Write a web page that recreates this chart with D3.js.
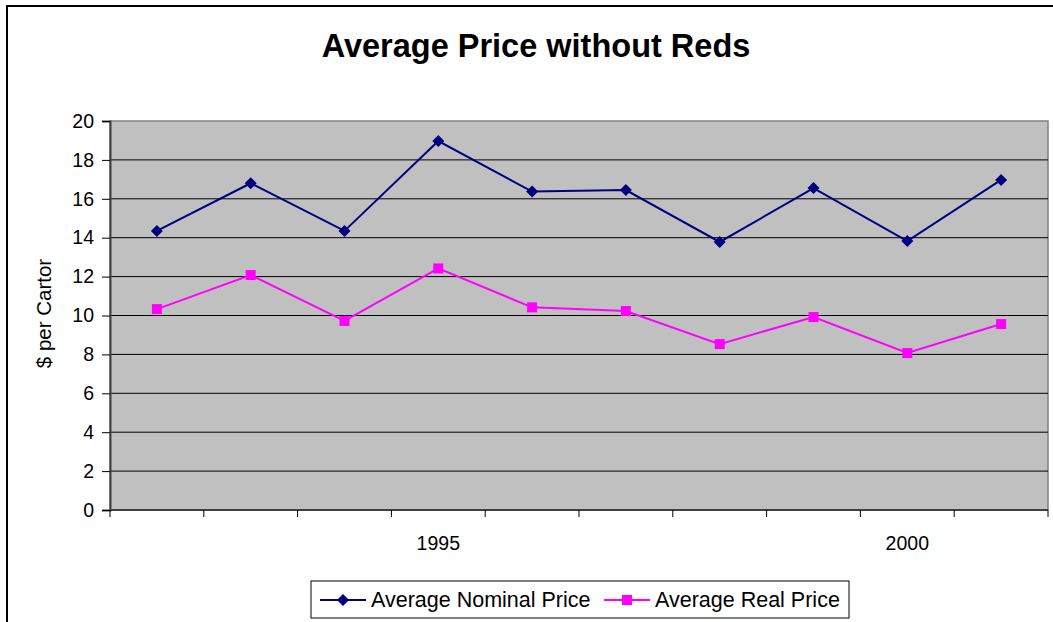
<!DOCTYPE html>
<html>
<head>
<meta charset="utf-8">
<script src="https://cdn.jsdelivr.net/npm/d3@7"></script>
<style>
  body { margin: 0; background: #fff; }
  svg { font-family: "Liberation Sans", Arial, sans-serif; display: block; }
</style>
</head>
<body>
<div id="chart"></div>
<script>
const years = [1992, 1993, 1994, 1995, 1996, 1997, 1998, 1999, 2000, 2001];
const yearLabels = { 1995: "1995", 2000: "2000" };
const nominalPrice = [14.35, 16.8, 14.35, 18.97, 16.37, 16.45, 13.78, 16.55, 13.83, 16.97];
const realPrice = [10.33, 12.08, 9.72, 12.42, 10.42, 10.23, 8.53, 9.92, 8.07, 9.56];
const yTicks = [0, 2, 4, 6, 8, 10, 12, 14, 16, 18, 20];

const width = 1053, height = 622;
const plot = { left: 110, right: 1048, top: 121, bottom: 510 };

const svg = d3.select("#chart").append("svg")
  .attr("width", width)
  .attr("height", height);

// outer chart frame (runs off the right and bottom edges)
svg.append("rect")
  .attr("x", 7).attr("y", 6)
  .attr("width", 1060).attr("height", 640)
  .attr("fill", "#fff")
  .attr("stroke", "#000")
  .attr("stroke-width", 2);

svg.append("text")
  .attr("x", 536).attr("y", 57)
  .attr("text-anchor", "middle")
  .style("font-size", "32.5px")
  .style("font-weight", "bold")
  .text("Average Price without Reds");

const x = d3.scaleBand()
  .domain(years)
  .range([plot.left, plot.right]);

const y = d3.scaleLinear()
  .domain([0, 20])
  .range([plot.bottom, plot.top]);

// plot background
svg.append("rect")
  .attr("x", plot.left).attr("y", plot.top)
  .attr("width", plot.right - plot.left)
  .attr("height", plot.bottom - plot.top)
  .attr("fill", "#c0c0c0")
  .attr("stroke", "#808080")
  .attr("stroke-width", 1.5);

// gridlines
svg.append("g")
  .selectAll("line")
  .data(yTicks.filter(d => d > 0 && d < 20))
  .join("line")
  .attr("x1", plot.left).attr("x2", plot.right)
  .attr("y1", d => y(d)).attr("y2", d => y(d))
  .attr("stroke", "#000")
  .attr("stroke-width", 1);

// y axis
const yAxis = svg.append("g")
  .attr("transform", `translate(${plot.left},0)`)
  .call(d3.axisLeft(y).tickValues(yTicks).tickSize(8).tickPadding(8));
yAxis.select(".domain").attr("stroke", "#404040").attr("stroke-width", 2);
yAxis.selectAll(".tick line").attr("stroke", "#000");
yAxis.selectAll("text")
  .style("font-size", "19.5px")
  .style("font-family", "Liberation Sans, Arial, sans-serif")
  .attr("fill", "#000");

// x axis: ticks at band boundaries, labels only on some years
const xAxisG = svg.append("g");
xAxisG.append("line")
  .attr("x1", plot.left).attr("x2", plot.right)
  .attr("y1", plot.bottom).attr("y2", plot.bottom)
  .attr("stroke", "#404040").attr("stroke-width", 2);
const boundaries = years.map(d => x(d)).concat([x(years[years.length - 1]) + x.bandwidth()]);
xAxisG.selectAll(".xtick")
  .data(boundaries)
  .join("line")
  .attr("class", "xtick")
  .attr("x1", d => d).attr("x2", d => d)
  .attr("y1", plot.bottom).attr("y2", plot.bottom + 7)
  .attr("stroke", "#000");
xAxisG.selectAll(".xlabel")
  .data(years.filter(d => yearLabels[d]))
  .join("text")
  .attr("class", "xlabel")
  .attr("x", d => x(d) + x.bandwidth() / 2)
  .attr("y", 550)
  .attr("text-anchor", "middle")
  .style("font-size", "19.5px")
  .text(d => yearLabels[d]);

// y label
svg.append("text")
  .attr("transform", `translate(51,${(plot.top + plot.bottom) / 2 - 2}) rotate(-90)`)
  .attr("text-anchor", "middle")
  .style("font-size", "20.5px")
  .text("$ per Cartor");

const cx = d => x(d) + x.bandwidth() / 2;

const series = [
  { name: "Average Nominal Price", values: nominalPrice, color: "#000080", shape: "diamond" },
  { name: "Average Real Price", values: realPrice, color: "#ff00ff", shape: "square" }
];

function marker(g, s, px, py) {
  if (s.shape === "diamond") {
    g.append("path")
      .attr("d", `M${px},${py - 6}L${px + 6},${py}L${px},${py + 6}L${px - 6},${py}Z`)
      .attr("fill", s.color);
  } else {
    g.append("rect")
      .attr("x", px - 5).attr("y", py - 5)
      .attr("width", 10).attr("height", 10)
      .attr("fill", s.color);
  }
}

series.forEach(s => {
  const line = d3.line()
    .x((d, i) => cx(years[i]))
    .y(d => y(d));
  svg.append("path")
    .datum(s.values)
    .attr("fill", "none")
    .attr("stroke", s.color)
    .attr("stroke-width", 2)
    .attr("d", line);
  const g = svg.append("g");
  s.values.forEach((v, i) => marker(g, s, cx(years[i]), y(v)));
});

// legend
const legend = svg.append("g");
legend.append("rect")
  .attr("x", 311).attr("y", 581)
  .attr("width", 538).attr("height", 37)
  .attr("fill", "#fff")
  .attr("stroke", "#000")
  .attr("stroke-width", 1);

const legendItems = [
  { s: series[0], x0: 320, tx: 371 },
  { s: series[1], x0: 604, tx: 655 }
];
legendItems.forEach(item => {
  legend.append("line")
    .attr("x1", item.x0).attr("x2", item.x0 + 46)
    .attr("y1", 600).attr("y2", 600)
    .attr("stroke", item.s.color)
    .attr("stroke-width", 2);
  marker(legend, item.s, item.x0 + 23, 600);
  legend.append("text")
    .attr("x", item.tx).attr("y", 607)
    .style("font-size", "21.5px")
    .text(item.s.name);
});
</script>
</body>
</html>
